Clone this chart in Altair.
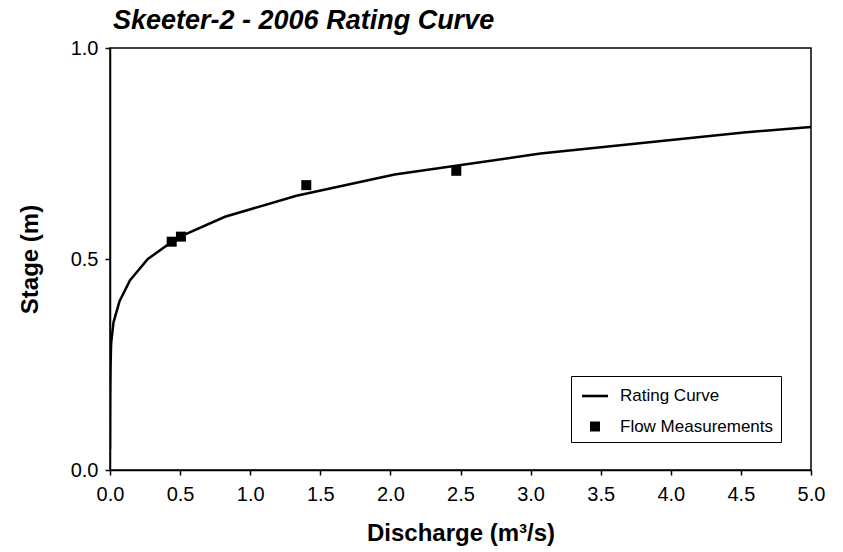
import altair as alt
import pandas as pd

# Rating curve (stage-discharge relation)
rating_discharge = [0.0, 0.0005, 0.001, 0.002, 0.004, 0.008, 0.025, 0.068, 0.143,
                    0.27, 0.48, 0.82, 1.33, 2.03, 3.07, 4.52, 5.0]
rating_stage = [0.05, 0.10, 0.15, 0.20, 0.25, 0.30, 0.35, 0.40, 0.45,
                0.50, 0.55, 0.60, 0.65, 0.70, 0.75, 0.80, 0.813]

# Measured flows
meas_discharge = [0.44, 0.506, 1.40, 2.47]
meas_stage = [0.541, 0.553, 0.675, 0.709]

series_names = ["Rating Curve", "Flow Measurements"]

FONT = "Liberation Sans"
# legend glyph for the curve: a thin horizontal bar; measurements: a square
LINE_GLYPH = "M-1,-0.1H1V0.1H-1Z"

curve_df = pd.DataFrame({"q": rating_discharge, "stage": rating_stage,
                         "series": series_names[0]})
meas_df = pd.DataFrame({"q": meas_discharge, "stage": meas_stage,
                        "series": series_names[1]})

x_scale = alt.Scale(domain=[0, 5], nice=False, zero=True)
y_scale = alt.Scale(domain=[0, 1], nice=False)

x_axis = alt.Axis(values=[0, 0.5, 1, 1.5, 2, 2.5, 3, 3.5, 4, 4.5, 5], format=".1f",
                  title="Discharge (m³/s)", grid=False, tickSize=5, labelPadding=9,
                  labelFlush=False, titlePadding=17)
y_axis = alt.Axis(values=[0, 0.5, 1], format=".1f", title="Stage (m)", grid=False,
                  tickSize=5, labelPadding=7, labelFlush=False, titlePadding=28)

curve = alt.Chart(curve_df).mark_line(color="black", strokeWidth=2.5, clip=True).encode(
    x=alt.X("q:Q", scale=x_scale, axis=x_axis),
    y=alt.Y("stage:Q", scale=y_scale, axis=y_axis),
    order=alt.Order("stage:Q"),
)

legend = alt.Legend(
    title=None, orient="none", legendX=461, legendY=328,
    fillColor="white", strokeColor="black", padding=7, symbolOffset=4,
    labelFont=FONT, labelFontSize=17, labelColor="black", labelOffset=12,
    symbolFillColor="black", symbolStrokeColor="black", symbolStrokeWidth=0,
    rowPadding=13, labelLimit=300,
)

points = alt.Chart(meas_df).mark_point(filled=True, color="black", strokeWidth=0,
                                       opacity=1).encode(
    x=alt.X("q:Q", scale=x_scale),
    y=alt.Y("stage:Q", scale=y_scale),
    shape=alt.Shape("series:N", scale=alt.Scale(domain=series_names,
                                                range=[LINE_GLYPH, "square"]),
                    legend=legend),
    size=alt.Size("series:N", scale=alt.Scale(domain=series_names, range=[676, 100]),
                  legend=legend),
)

chart = alt.layer(curve, points).properties(
    width=701, height=422,
    autosize=alt.AutoSizeParams(type="none"),
    padding={"left": 110, "top": 48, "right": 32, "bottom": 82},
    title=alt.TitleParams(
        "Skeeter-2 - 2006 Rating Curve", anchor="start", frame="group", font=FONT,
        fontSize=27, fontStyle="italic", fontWeight="bold", color="black", dx=3,
        offset=3,
    ),
).configure_view(
    stroke="black", strokeWidth=1.5,
).configure_axis(
    labelFont=FONT, labelFontSize=20, labelColor="black",
    titleFont=FONT, titleFontSize=24, titleFontWeight="bold", titleColor="black",
    domainColor="black", domainWidth=1.5, tickColor="black", tickWidth=1.5,
)

chart.save("out.html", embed_options={"renderer": "svg", "actions": False})
